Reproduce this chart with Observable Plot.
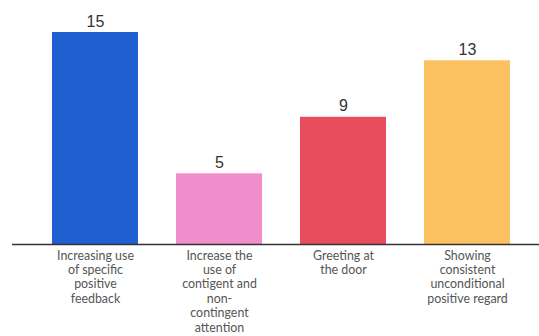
<!DOCTYPE html>
<html><head><meta charset="utf-8">
<script src="https://cdn.jsdelivr.net/npm/d3@7"></script>
<script src="https://cdn.jsdelivr.net/npm/@observablehq/plot@0.6"></script>
<style>
html,body{margin:0;padding:0;background:#fff;}
</style>
</head><body><div id="chart"></div>
<script>
const categories = [
  "Increasing use of specific positive feedback",
  "Increase the use of contigent and non-contingent attention",
  "Greeting at the door",
  "Showing consistent unconditional positive regard"
];
const tickLabels = [
  "Increasing use\nof specific\npositive\nfeedback",
  "Increase the\nuse of\ncontigent and\nnon-\ncontingent\nattention",
  "Greeting at\nthe door",
  "Showing\nconsistent\nunconditional\npositive regard"
];
const values = [15, 5, 9, 13];
const colors = ["#1f5fd2", "#f08dcb", "#e84d5e", "#fcc160"];

const data = categories.map((c, i) => ({category: c, value: values[i], color: colors[i]}));
const labelOf = new Map(categories.map((c, i) => [c, tickLabels[i]]));

const chart = Plot.plot({
  width: 539,
  height: 336,
  marginTop: 32,
  marginBottom: 92,
  marginLeft: 12,
  marginRight: 0,
  style: {fontFamily: "Lato, 'Noto Sans', sans-serif", background: "#fff"},
  x: {domain: categories, paddingInner: 0.31, paddingOuter: 0.2735, align: 0.57, axis: null},
  y: {domain: [0, 15], axis: null},
  marks: [
    Plot.barY(data, {x: "category", y: "value", fill: "color"}),
    Plot.ruleY([0], {stroke: "#333", strokeWidth: 1.6}),
    Plot.text(data, {x: "category", y: "value", text: d => String(d.value), dy: -6, lineAnchor: "bottom", fontSize: 16, fontFamily: "'Liberation Sans', Arial, sans-serif", fill: "#333"}),
    Plot.axisX({tickSize: 0, tickPadding: 5, tickFormat: c => labelOf.get(c), fontSize: 12.4, lineHeight: 1.16, fill: "#555", anchor: "bottom", label: null})
  ]
});
document.getElementById("chart").appendChild(chart);
</script>
</body></html>
